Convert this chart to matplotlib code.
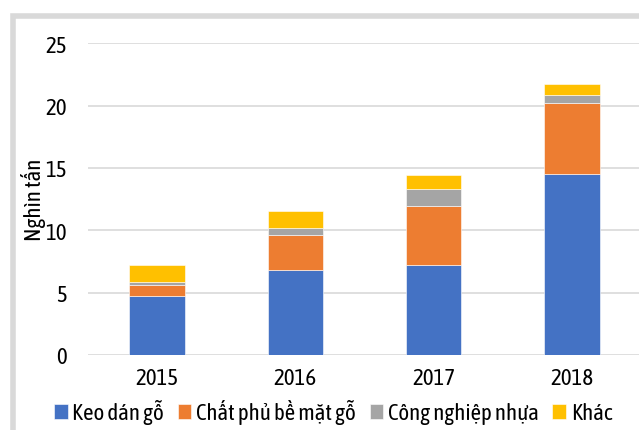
import numpy as np
import matplotlib
matplotlib.use("Agg")
import matplotlib.pyplot as plt
from matplotlib.patches import Rectangle

years = ["2015", "2016", "2017", "2018"]
series_names = ["Keo dán gỗ", "Chất phủ bề mặt gỗ", "Công nghiệp nhựa", "Khác"]
keo = [4.7, 6.85, 7.25, 14.55]
chat_phu = [0.95, 2.8, 4.7, 5.7]
nhua = [0.2, 0.55, 1.4, 0.6]
khac = [1.4, 1.35, 1.1, 0.85]
colors = ["#4472C4", "#ED7D31", "#A5A5A5", "#FFC000"]

plt.rcParams["font.family"] = ["Asap Condensed", "DejaVu Sans"]
FS = 16.5

W, H = 639, 431
fig = plt.figure(figsize=(W / 100, H / 100), dpi=100)
ax = fig.add_axes([88 / W, 1 - 356 / H, (641 - 88) / W, (356 - 44.3) / H])

x = np.arange(len(years))
bottom = np.zeros(len(years))
for name, vals, col in zip(series_names, [keo, chat_phu, nhua, khac], colors):
    ax.bar(x, vals, 0.4, bottom=bottom, color=col, label=name, zorder=3,
           edgecolor="white", linewidth=0.4)
    bottom += np.array(vals)

ax.set_xlim(-0.5, 3.5)
ax.set_ylim(0, 25)
ax.set_yticks([0, 5, 10, 15, 20, 25])
ax.set_xticks(x)
ax.set_xticklabels(years)
ax.grid(axis="y", color="#D9D9D9", linewidth=1.2, zorder=0)
for s in ax.spines.values():
    s.set_visible(False)
ax.tick_params(axis="both", length=0, labelsize=FS, colors="black")
ax.tick_params(axis="y", pad=15)
ax.tick_params(axis="x", pad=9)
ax.set_ylabel("Nghìn tấn", fontsize=FS)
ax.yaxis.set_label_coords((46 - 88) / (641 - 88), 0.5)

ax.legend(loc="center", bbox_to_anchor=(333 / W, 1 - 413 / H),
          bbox_transform=fig.transFigure, ncol=4, frameon=False,
          handlelength=0.6, handleheight=0.6, handletextpad=0.2,
          columnspacing=0.6, fontsize=FS, borderpad=0)

# light gray frame around the chart (cut by the image on the right/bottom)
fig.patches.append(Rectangle((12.5 / W, -0.1), 1.2, 1 - 17 / H + 0.1,
                             transform=fig.transFigure, fill=False,
                             edgecolor="#D9D9D9", linewidth=4, zorder=0))

fig.savefig("out.png", dpi=100)
